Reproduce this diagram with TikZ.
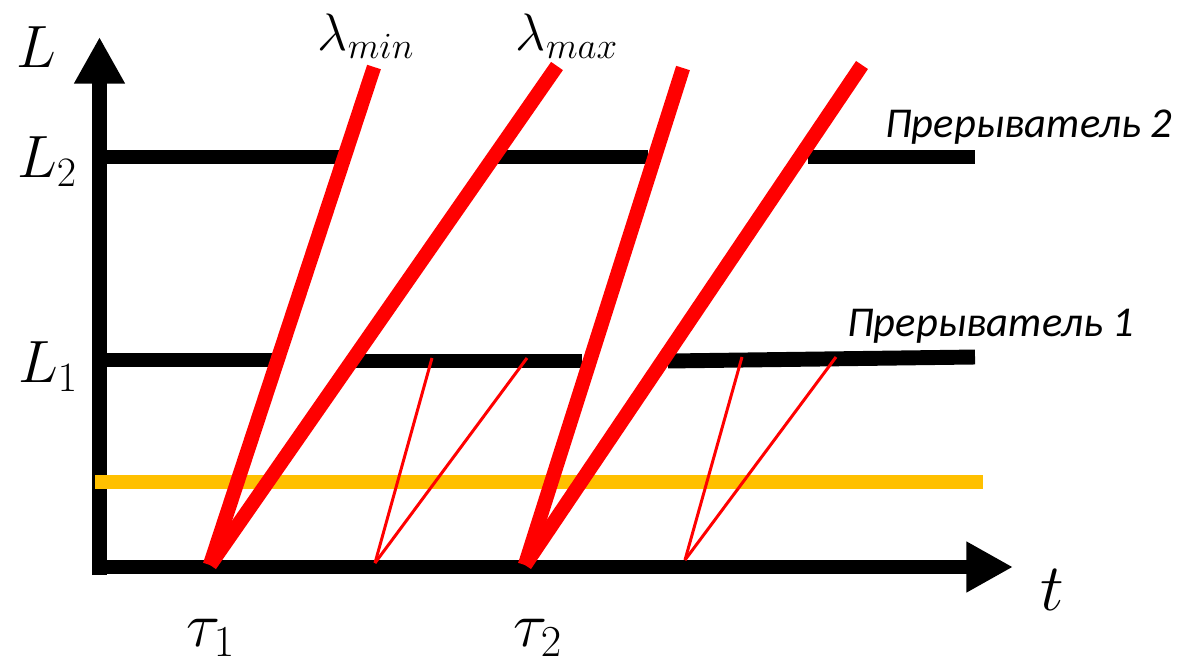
\RequirePackage{fix-cm}
\documentclass[tikz,border=0pt]{standalone}
\usepackage{fontspec}
\usepackage{amsmath}
\usetikzlibrary{arrows.meta}
\newfontfamily\breakerfont{Carlito}
\definecolor{beamred}{HTML}{FF0000}
\definecolor{levelgold}{HTML}{FFC000}

\begin{document}
\begin{tikzpicture}[x=0.02cm, y=-0.02cm,
    axis/.style={line width=8.5pt, -{Triangle[length=26.6pt, width=27.2pt]}},
    level/.style={line width=8.5pt},
    beam/.style={beamred, line width=8.2pt},
    echo/.style={beamred, line width=1.7pt},
    mathlabel/.style={font=\fontsize{30}{34}\selectfont, inner sep=0pt},
    biglabel/.style={font=\fontsize{34}{38}\selectfont, inner sep=0pt},
    breaker/.style={font=\fontsize{24.2}{28}\selectfont\breakerfont\itshape, inner sep=0pt}]
  \useasboundingbox (0,0) rectangle (1181,664);

  % ---------- axes ----------
  \coordinate (ybase) at (99.5,575);
  \coordinate (ytip) at (99.5,37);
  \coordinate (xbase) at (92,567);
  \coordinate (xtip) at (1013,567);
  \draw[axis] (ybase) -- (ytip);
  \draw[axis] (xbase) -- (xtip);
  \node[biglabel] (Lname) at (36,47) {$L$};
  \node[font=\fontsize{38}{42}\selectfont, inner sep=0pt] (tname) at (1052,590) {$t$};

  % ---------- level lines ----------
  \node[biglabel] (Ltwo) at (47,162) {$L_2$};
  \node[biglabel] (Lone) at (48,367) {$L_1$};
  \foreach \xa/\xb in {107/350, 493/648, 808/975}
    \draw[level] (\xa,157) -- (\xb,157);
  \draw[level] (107,360) -- (277,360);
  \draw[level] (351,361) -- (582,361);
  \draw[level] (668,361) -- (975,357);
  \node[breaker] (brtwo) at (1029,127) {Прерыватель 2};
  \node[breaker] (brone) at (991,326) {Прерыватель 1};

  % ---------- threshold ----------
  \draw[levelgold, line width=8.5pt] (95,482) -- (983,482);

  % ---------- beams ----------
  \coordinate (sone) at (210,565);
  \coordinate (stwo) at (525,565);
  \coordinate (minone) at (374,67);
  \coordinate (maxone) at (557,66);
  \coordinate (mintwo) at (683,68);
  \coordinate (maxtwo) at (862,65);
  \draw[beam] (sone) -- (minone);
  \draw[beam] (sone) -- (maxone);
  \draw[beam] (stwo) -- (mintwo);
  \draw[beam] (stwo) -- (maxtwo);
  \node[mathlabel] (lmin) at (366,36) {$\lambda_{min}$};
  \node[mathlabel] (lmax) at (567,36) {$\lambda_{max}$};
  \node[font=\fontsize{36}{40}\selectfont, inner sep=0pt] (tauone) at (211,638) {$\tau_1$};
  \node[font=\fontsize{36}{40}\selectfont, inner sep=0pt] (tautwo) at (538,638) {$\tau_2$};

  % ---------- reflected beams ----------
  \coordinate (eone) at (375,563);
  \coordinate (etwo) at (685,560);
  \draw[echo] (eone) -- (432,358);
  \draw[echo] (eone) -- (527,358);
  \draw[echo] (etwo) -- (742,357);
  \draw[echo] (etwo) -- (836,357);
\end{tikzpicture}
\end{document}
